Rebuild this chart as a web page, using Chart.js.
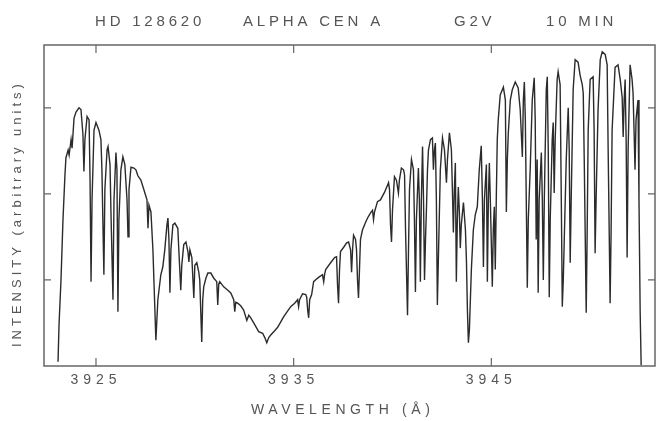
<!DOCTYPE html>
<html>
<head>
<meta charset="utf-8">
<script src="https://cdn.jsdelivr.net/npm/chart.js@4/dist/chart.umd.min.js"></script>
<style>
  html, body { margin: 0; padding: 0; background: #fff; }
  #wrap { width: 657px; height: 421px; }
</style>
</head>
<body>
<div id="wrap"><canvas id="spectrum"></canvas></div>
<script>
// Spektrum-Daten
const wavelength = [
  3923.08, 3923.13, 3923.23, 3923.33, 3923.43, 3923.48, 3923.59, 3923.64, 3923.74, 3923.79,
  3923.89, 3923.99, 3924.14, 3924.24, 3924.34, 3924.39, 3924.44, 3924.55, 3924.65, 3924.70,
  3924.75, 3924.80, 3924.90, 3925.00, 3925.15, 3925.25, 3925.30, 3925.40, 3925.45, 3925.56,
  3925.61, 3925.71, 3925.76, 3925.86, 3925.91, 3926.01, 3926.06, 3926.11, 3926.16, 3926.26,
  3926.36, 3926.46, 3926.57, 3926.62, 3926.67, 3926.77, 3926.92, 3927.02, 3927.12, 3927.27,
  3927.42, 3927.58, 3927.63, 3927.68, 3927.78, 3927.88, 3927.98, 3928.03, 3928.13, 3928.28,
  3928.38, 3928.48, 3928.59, 3928.64, 3928.69, 3928.74, 3928.79, 3928.89, 3928.99, 3929.14,
  3929.19, 3929.29, 3929.34, 3929.44, 3929.55, 3929.65, 3929.70, 3929.75, 3929.85, 3929.95,
  3930.00, 3930.10, 3930.20, 3930.25, 3930.35, 3930.40, 3930.45, 3930.56, 3930.66, 3930.81,
  3930.96, 3931.11, 3931.16, 3931.21, 3931.26, 3931.46, 3931.67, 3931.82, 3931.97, 3932.02,
  3932.07, 3932.17, 3932.32, 3932.47, 3932.63, 3932.73, 3932.83, 3932.98, 3933.13, 3933.23,
  3933.43, 3933.54, 3933.64, 3933.74, 3933.84, 3934.04, 3934.19, 3934.34, 3934.49, 3934.70,
  3934.85, 3935.05, 3935.20, 3935.25, 3935.30, 3935.45, 3935.61, 3935.66, 3935.71, 3935.76,
  3935.81, 3935.91, 3936.01, 3936.16, 3936.26, 3936.46, 3936.52, 3936.57, 3936.62, 3936.87,
  3937.07, 3937.17, 3937.22, 3937.27, 3937.32, 3937.37, 3937.53, 3937.68, 3937.78, 3937.88,
  3937.93, 3937.98, 3938.03, 3938.13, 3938.18, 3938.23, 3938.28, 3938.33, 3938.38, 3938.48,
  3938.64, 3938.74, 3938.89, 3938.99, 3939.04, 3939.09, 3939.24, 3939.39, 3939.60, 3939.80,
  3939.85, 3939.90, 3939.95, 3940.00, 3940.10, 3940.20, 3940.30, 3940.35, 3940.45, 3940.56,
  3940.61, 3940.66, 3940.76, 3940.81, 3940.86, 3940.96, 3941.06, 3941.11, 3941.16, 3941.21,
  3941.31, 3941.36, 3941.41, 3941.46, 3941.52, 3941.57, 3941.62, 3941.67, 3941.72, 3941.77,
  3941.82, 3941.92, 3942.02, 3942.07, 3942.12, 3942.17, 3942.22, 3942.27, 3942.32, 3942.42,
  3942.53, 3942.63, 3942.73, 3942.78, 3942.88, 3942.98, 3943.03, 3943.08, 3943.13, 3943.18,
  3943.23, 3943.28, 3943.33, 3943.38, 3943.43, 3943.48, 3943.59, 3943.69, 3943.74, 3943.79,
  3943.84, 3943.89, 3943.99, 3944.09, 3944.19, 3944.29, 3944.39, 3944.49, 3944.55, 3944.60,
  3944.65, 3944.75, 3944.80, 3944.85, 3944.90, 3944.95, 3945.05, 3945.10, 3945.15, 3945.20,
  3945.25, 3945.30, 3945.35, 3945.45, 3945.61, 3945.71, 3945.76, 3945.81, 3945.86, 3945.96,
  3946.06, 3946.21, 3946.36, 3946.46, 3946.57, 3946.62, 3946.67, 3946.72, 3946.82, 3946.87,
  3946.97, 3947.07, 3947.17, 3947.22, 3947.27, 3947.32, 3947.37, 3947.42, 3947.53, 3947.58,
  3947.63, 3947.68, 3947.78, 3947.83, 3947.88, 3947.93, 3947.98, 3948.08, 3948.13, 3948.18,
  3948.23, 3948.33, 3948.38, 3948.48, 3948.54, 3948.59, 3948.64, 3948.69, 3948.79, 3948.89,
  3948.94, 3948.99, 3949.04, 3949.14, 3949.24, 3949.39, 3949.49, 3949.60, 3949.65, 3949.70,
  3949.80, 3949.85, 3949.90, 3950.00, 3950.15, 3950.20, 3950.25, 3950.30, 3950.40, 3950.51,
  3950.61, 3950.76, 3950.86, 3950.91, 3951.01, 3951.06, 3951.11, 3951.26, 3951.41, 3951.52,
  3951.62, 3951.67, 3951.72, 3951.77, 3951.82, 3951.87, 3951.92, 3952.02, 3952.12, 3952.17,
  3952.22, 3952.27, 3952.32, 3952.42, 3952.47, 3952.53, 3952.58
];

const intensity = [
  0.05, 0.48, 1.00, 1.70, 2.22, 2.42, 2.51, 2.45, 2.63, 2.53,
  2.88, 2.95, 3.00, 2.98, 2.69, 2.26, 2.63, 2.90, 2.86, 2.16,
  0.98, 1.93, 2.74, 2.83, 2.74, 2.63, 2.28, 1.06, 2.05, 2.51,
  2.55, 2.34, 1.76, 0.77, 1.93, 2.48, 2.28, 0.63, 1.70, 2.28,
  2.43, 2.34, 1.93, 1.50, 2.05, 2.31, 2.30, 2.28, 2.21, 2.16,
  2.05, 1.93, 1.60, 1.87, 1.79, 1.35, 0.65, 0.30, 0.77, 1.06,
  1.15, 1.35, 1.64, 1.72, 1.47, 0.85, 1.35, 1.64, 1.66, 1.60,
  1.35, 0.88, 1.17, 1.41, 1.44, 1.33, 1.21, 1.35, 1.26, 0.79,
  1.17, 1.20, 1.09, 1.00, 0.28, 0.77, 0.92, 1.02, 1.08, 1.08,
  1.02, 0.98, 0.71, 0.95, 0.98, 0.92, 0.88, 0.85, 0.77, 0.63,
  0.74, 0.73, 0.70, 0.65, 0.53, 0.59, 0.56, 0.50, 0.44, 0.40,
  0.38, 0.33, 0.27, 0.33, 0.36, 0.41, 0.45, 0.51, 0.57, 0.64,
  0.69, 0.73, 0.77, 0.69, 0.77, 0.84, 0.83, 0.80, 0.65, 0.56,
  0.77, 0.83, 0.98, 1.01, 1.03, 1.06, 0.98, 1.07, 1.12, 1.20,
  1.26, 1.27, 0.94, 0.73, 1.12, 1.33, 1.38, 1.43, 1.44, 1.35,
  1.09, 1.35, 1.52, 1.47, 1.35, 1.00, 0.79, 1.12, 1.47, 1.58,
  1.67, 1.72, 1.78, 1.81, 1.70, 1.79, 1.91, 1.93, 2.02, 2.13,
  2.05, 1.64, 1.44, 1.81, 2.20, 2.16, 2.01, 2.16, 2.30, 2.28,
  2.22, 1.58, 0.59, 1.35, 2.05, 2.40, 2.28, 1.70, 0.86, 1.70,
  2.30, 1.93, 0.98, 1.93, 2.55, 1.93, 1.00, 1.47, 1.84, 2.28,
  2.51, 2.63, 2.65, 2.28, 2.51, 2.59, 1.93, 0.71, 1.23, 2.28,
  2.65, 2.51, 2.13, 2.40, 2.71, 2.51, 2.05, 1.55, 2.05, 2.36,
  0.98, 1.70, 2.08, 1.81, 1.37, 1.64, 1.90, 1.58, 1.23, 0.65,
  0.27, 0.42, 1.12, 1.58, 1.76, 1.85, 2.28, 2.56, 1.93, 1.15,
  1.93, 2.34, 0.98, 1.93, 2.36, 1.93, 0.92, 1.58, 1.85, 1.12,
  1.93, 2.63, 2.86, 3.15, 3.24, 3.09, 1.79, 2.40, 2.71, 3.09,
  3.21, 3.30, 3.23, 2.98, 2.43, 3.09, 3.30, 2.86, 0.91, 1.70,
  2.31, 3.09, 3.35, 2.86, 1.47, 2.40, 0.85, 1.93, 2.48, 1.93,
  1.00, 1.93, 3.21, 3.36, 2.51, 0.80, 1.70, 2.63, 2.83, 2.01,
  2.63, 3.33, 3.42, 3.27, 1.93, 0.69, 1.00, 1.47, 2.40, 3.00,
  2.51, 1.20, 1.93, 3.21, 3.56, 3.53, 3.38, 3.27, 3.17, 2.40,
  0.62, 1.58, 2.74, 3.33, 3.36, 2.74, 1.31, 1.93, 2.98, 3.56,
  3.65, 3.62, 3.50, 2.51, 0.73, 1.58, 2.74, 3.47, 3.50, 3.33,
  3.12, 2.66, 3.09, 3.33, 2.63, 1.26, 2.51, 3.50, 3.33, 3.17,
  2.74, 2.28, 2.86, 3.09, 1.93, 0.62, 0.01
];

const xTicks = [3925, 3935, 3945];       // beschriftete Wellenlängen
const yTicks = [1, 2, 3];                // unbeschriftete Intensitätsmarken
const headerParts = ['HD 128620', 'ALPHA CEN A', 'G2V', '10 MIN'];
const xTitle = 'WAVELENGTH (Å)';
const yTitle = 'INTENSITY (arbitrary units)';

const textColor = '#555';
const frameColor = '#666';

// Rahmen, nach innen zeigende Ticks und Beschriftungen
const framePlugin = {
  id: 'frame',
  beforeDraw(chart) {
    chart.ctx.letterSpacing = '5px';
  },
  afterDraw(chart) {
    const ctx = chart.ctx;
    const a = chart.chartArea;
    const xs = chart.scales.x;
    const ys = chart.scales.y;
    ctx.save();
    ctx.strokeStyle = frameColor;
    ctx.lineWidth = 1.5;
    ctx.strokeRect(a.left, a.top, a.right - a.left, a.bottom - a.top);

    ctx.lineWidth = 1.2;
    ctx.beginPath();
    xTicks.forEach(v => {
      const px = xs.getPixelForValue(v);
      ctx.moveTo(px, a.bottom); ctx.lineTo(px, a.bottom - 8);
      ctx.moveTo(px, a.top); ctx.lineTo(px, a.top + 8);
    });
    yTicks.forEach(v => {
      const py = ys.getPixelForValue(v);
      ctx.moveTo(a.left, py); ctx.lineTo(a.left + 7, py);
      ctx.moveTo(a.right, py); ctx.lineTo(a.right - 7, py);
    });
    ctx.stroke();

    ctx.fillStyle = textColor;
    ctx.textBaseline = 'middle';
    ctx.textAlign = 'left';

    // Kopfzeile
    ctx.font = '15px "Liberation Sans", Arial, sans-serif';
    ctx.letterSpacing = '3.8px';
    const headerX = [95, 243, 454, 546];
    headerParts.forEach((t, i) => ctx.fillText(t, headerX[i], 22));

    // x-Achsentitel
    ctx.font = '14px "Liberation Sans", Arial, sans-serif';
    ctx.letterSpacing = '4.6px';
    ctx.fillText(xTitle, 251, 410);

    // y-Achsentitel (von unten nach oben)
    ctx.font = '13px "Liberation Sans", Arial, sans-serif';
    ctx.letterSpacing = '4px';
    ctx.translate(17, 347);
    ctx.rotate(-Math.PI / 2);
    ctx.fillText(yTitle, 0, 0);
    ctx.restore();
    ctx.letterSpacing = '0px';
  }
};

new Chart(document.getElementById('spectrum'), {
  type: 'scatter',
  data: {
    datasets: [{
      data: wavelength.map((w, i) => ({ x: w, y: intensity[i] })),
      showLine: true,
      borderColor: '#2b2b2b',
      borderWidth: 1.4,
      pointRadius: 0,
      tension: 0
    }]
  },
  options: {
    responsive: true,
    maintainAspectRatio: false,
    animation: false,
    layout: { padding: { top: 45, right: 2, left: 0, bottom: 0 } },
    plugins: { legend: { display: false }, tooltip: { enabled: false } },
    scales: {
      x: {
        type: 'linear',
        min: 3922.37,
        max: 3953.28,
        afterBuildTicks: scale => { scale.ticks = xTicks.map(v => ({ value: v })); },
        afterFit: scale => { scale.height = 55; },
        grid: { display: false, drawTicks: false },
        border: { display: false },
        ticks: {
          color: textColor,
          padding: 6,
          maxRotation: 0,
          autoSkip: false,
          callback: v => String(v),
          font: { size: 14, family: '"Liberation Sans", Arial, sans-serif' }
        }
      },
      y: {
        min: 0,
        max: 3.73,
        afterBuildTicks: scale => { scale.ticks = yTicks.map(v => ({ value: v })); },
        afterFit: scale => { scale.width = 44; },
        grid: { display: false, drawTicks: false },
        border: { display: false },
        ticks: { display: false }
      }
    }
  },
  plugins: [framePlugin]
});
</script>
</body>
</html>
